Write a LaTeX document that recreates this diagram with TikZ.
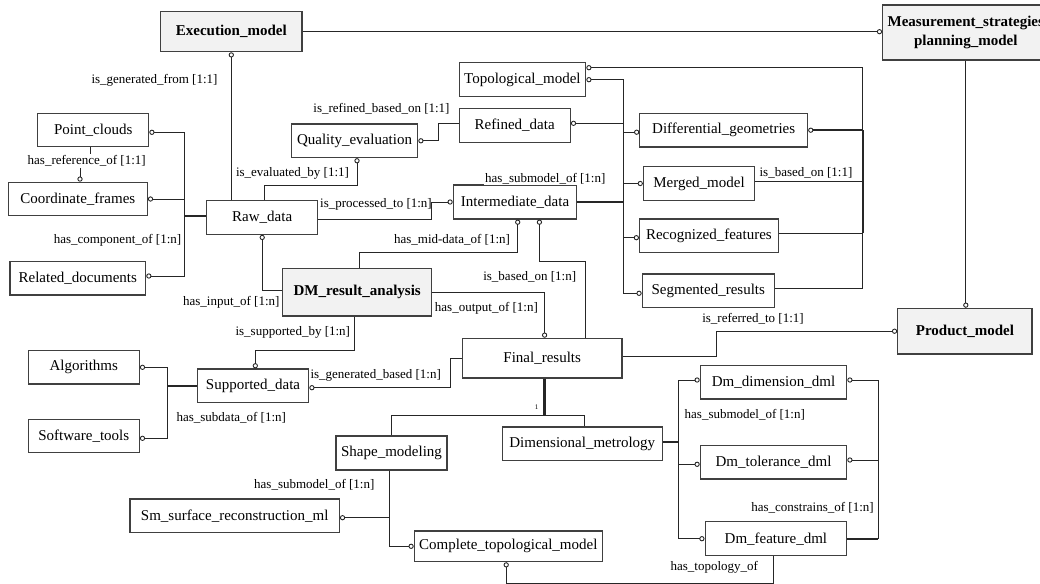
\documentclass[tikz,border=0pt]{standalone}
\usepackage{fontspec}
\setmainfont{Liberation Serif}
\usetikzlibrary{arrows.meta,calc}
\begin{document}
\begin{tikzpicture}[x=1pt,y=-1pt,
  box/.style={draw=black!75, line width=1.2pt, fill=white, inner sep=0pt,
    font=\fontsize{15}{17}\selectfont, minimum height=33.5pt},
  gbox/.style={box, fill=black!5, font=\fontsize{15}{18.4}\selectfont\bfseries},
  lbl/.style={font=\fontsize{13}{15}\selectfont, inner sep=0.5pt},
  wlbl/.style={lbl, fill=white, inner sep=1.5pt},
  conn/.style={line width=1pt, draw=black!85},
  oc/.style={conn, -{Circle[open,length=5.2pt,width=5.2pt,line width=0.9pt]}},
  thk/.style={line width=1.7pt}
]
\useasboundingbox (0,0) rectangle (1040,583);

% ---------- boxes ----------
\node[gbox, minimum width=141.3pt, minimum height=40pt] (exec) at (231.3,31.7) {Execution\_model};
\node[gbox, minimum width=166.3pt, minimum height=55pt, align=center] (meas) at (965.8,32.5) {Measurement\_strategies\\planning\_model};
\node[box, minimum width=126.6pt, minimum height=34pt] (topo) at (522.4,79.7) {Topological\_model};
\node[box, minimum width=111.2pt, minimum height=34pt] (refined) at (514.7,125.3) {Refined\_data};
\node[box, minimum width=126.4pt] (quality) at (354.5,140.8) {Quality\_evaluation};
\node[box, minimum width=111pt] (points) at (93.2,130) {Point\_clouds};
\node[box, minimum width=139pt] (coord) at (77.8,199) {Coordinate\_frames};
\node[box, minimum width=135.7pt] (related) at (77.8,278.3) {Related\_documents};
\node[box, minimum width=111pt] (raw) at (262.2,217.5) {Raw\_data};
\node[box, minimum width=123.4pt, minimum height=34pt] (inter) at (515,202) {Intermediate\_data};
\node[box, minimum width=167.7pt] (diff) at (723.7,130.2) {Differential\_geometries};
\node[box, minimum width=111.1pt] (merged) at (699,183.5) {Merged\_model};
\node[box, minimum width=138.7pt] (recog) at (708.9,235.7) {Recognized\_features};
\node[box, minimum width=132.1pt] (seg) at (708.3,290.7) {Segmented\_results};
\node[gbox, minimum width=149pt, minimum height=47.3pt] (dm) at (357.2,292.3) {DM\_result\_analysis};
\node[box, minimum width=159.7pt, minimum height=39.7pt] (final) at (542.2,358.2) {Final\_results};
\node[gbox, minimum width=134.3pt, minimum height=45.7pt] (product) at (964.9,331.2) {Product\_model};
\node[box, minimum width=111pt] (algo) at (83.8,367.3) {Algorithms};
\node[box, minimum width=111pt] (soft) at (83.8,436) {Software\_tools};
\node[box, minimum width=111.4pt] (supp) at (253,385.7) {Supported\_data};
\node[box, minimum width=111pt, minimum height=34pt] (shape) at (391.5,453) {Shape\_modeling};
\node[box, minimum width=160.2pt] (dimm) at (582.3,443.8) {Dimensional\_metrology};
\node[box, minimum width=146.4pt] (dimd) at (773.5,382.3) {Dm\_dimension\_dml};
\node[box, minimum width=146.4pt] (tol) at (773.5,462.3) {Dm\_tolerance\_dml};
\node[box, minimum width=141.6pt, minimum height=34pt] (feat) at (775.9,538.7) {Dm\_feature\_dml};
\node[box, minimum width=209.3pt] (sm) at (234.7,515.7) {Sm\_surface\_reconstruction\_ml};
\node[box, minimum width=188pt, minimum height=30.7pt] (comp) at (508.3,546.3) {Complete\_topological\_model};

% ---------- connectors ----------
\draw[oc] (exec.east) -- (exec.east -| meas.west);
\draw[oc] (raw.north -| exec.south) -- (exec.south);

\coordinate (lbA) at ($(raw.west)+(-21.4,-1.8)$);
\draw[conn, thk] ($(raw.west)+(0,-1.8)$) -- (lbA);
\draw[oc] (lbA) |- ($(points.east)+(0,2.3)$);
\draw[oc] (lbA) |- (coord.east);
\draw[oc] (lbA) |- ($(related.east)+(0,-2.3)$);

\draw[oc] ($(points.south)+(-2.5,0)$) |- (85,161) -| ($(coord.north)+(2.2,0)$);

\draw[oc] ($(raw.north)+(2.1,0)$) |- (357,185) -- ($(quality.south)+(2.5,0)$);
\draw[oc] ($(refined.west)+(0,-2)$) -| (438.3,140.8) -- (quality.east);
\draw[oc] ($(raw.east)+(0,1.8)$) -| (431.7,202) -- (inter.west);
\draw[oc] ($(dm.west)+(0,-2.3)$) -| (raw.south);
\draw[oc] ($(dm.north)+(2.1,0)$) |- (517.7,252.7) -- ($(inter.south)+(2.7,0)$);
\draw[oc] ($(final.north)+(43.1,0)$) |- (539.4,261.7) -- ($(inter.south)+(24.4,0)$);
\draw[oc] (dm.east) -| ($(final.north)+(2.4,0)$);

\coordinate (mb) at ($(inter.east)+(46.1,0)$);
\draw[conn, thk] (inter.east) -- (mb);
\draw[oc] (mb) |- (topo.east);
\draw[oc] (mb) |- ($(refined.east)+(0,-2)$);
\draw[oc] (mb) |- ($(diff.west)+(0,2)$);
\draw[oc] (mb) |- (merged.west);
\draw[oc] (mb) |- ($(recog.west)+(0,2)$);
\draw[oc] (mb) |- ($(seg.west)+(0,2.6)$);

\coordinate (rbus) at ($(diff.east)+(54.5,0)$);
\draw[oc] (rbus) |- ($(topo.east)+(0,-12)$);
\draw[oc, thk] (rbus) -- (diff.east);
\draw[conn] (rbus) |- ($(merged.east)+(0,-2.2)$);
\draw[conn] (rbus) |- ($(recog.east)+(0,-2.4)$);
\draw[conn] (rbus) |- ($(seg.east)+(0,-2.4)$);
\draw[conn, thk] (rbus) -- ($(recog.east -| rbus)+(0,-2.4)$);

\draw[oc] (meas.south) -- (meas.south |- product.north);
\draw[oc] ($(final.east)+(0,-2.2)$) -| (716.6,331.2) -- (product.west);

\draw[oc] ($(dm.south)+(-2.9,0)$) |- (255.3,350) -- ($(supp.north)+(2.3,0)$);
\coordinate (sb) at ($(supp.west)+(-29,0)$);
\draw[conn, thk] (supp.west) -- (sb);
\draw[oc] (sb) |- (algo.east);
\draw[oc] (sb) |- ($(soft.east)+(0,2.3)$);
\draw[oc] (final.west) -| (450,387.7) -- ($(supp.east)+(0,2)$);

\coordinate (fj) at ($(final.south)+(2.4,37)$);
\draw[conn, line width=2.4pt] ($(final.south)+(2.4,0)$) -- (fj);
\draw[conn] (shape.north) |- (fj) -| ($(dimm.north)+(2.2,0)$);

\coordinate (db) at ($(dimm.east)+(15,-2.1)$);
\draw[conn, thk] ($(dimm.east)+(0,-2.1)$) -- (db);
\draw[oc] (db) |- ($(dimd.west)+(0,-2.3)$);
\draw[oc] (db) |- ($(tol.west)+(0,2)$);
\draw[oc] (db) |- (feat.west);

\coordinate (db2) at ($(tol.east)+(30.8,-2.3)$);
\draw[oc] (db2) |- ($(dimd.east)+(0,-2.3)$);
\draw[oc] (db2) -- ($(tol.east)+(0,-2.3)$);
\draw[conn] (db2) |- (feat.east);
\draw[conn, thk] (feat.east) -- (feat.east -| db2);

\draw[oc] ($(feat.south)+(-2.8,0)$) -- ++(0,27) -| ($(comp.south)+(-2.1,0)$);
\draw[oc] ($(shape.south)+(-2.2,0)$) |- (comp.west);
\draw[oc] ($(shape.south)+(-2.2,0)$) |- ($(sm.east)+(0,2)$);

% ---------- labels ----------
\node[lbl] (l1) at (154.5,80) {is\_generated\_from [1:1]};
\node[wlbl] (l2) at (86.7,161) {has\_reference\_of [1:1]};
\node[lbl] (l3) at (117.5,240) {has\_component\_of [1:n]};
\node[lbl] (l4) at (381.5,109) {is\_refined\_based\_on [1:1]};
\node[lbl] (l5) at (292.5,173.3) {is\_evaluated\_by [1:1]};
\node[lbl] (l6) at (376,204) {is\_processed\_to [1:n]};
\node[wlbl] (l7) at (545.3,178.3) {has\_submodel\_of [1:n]};
\node[lbl] (l8) at (452,240) {has\_mid-data\_of [1:n]};
\node[lbl] (l9) at (806,173) {is\_based\_on [1:1]};
\node[lbl] (l10) at (231.3,302.3) {has\_input\_of [1:n]};
\node[lbl] (l11) at (529.7,277) {is\_based\_on [1:n]};
\node[lbl] (l12) at (486.4,308.3) {has\_output\_of [1:n]};
\node[lbl] (l13) at (753,319) {is\_referred\_to [1:1]};
\node[lbl] (l14) at (292.8,332.3) {is\_supported\_by [1:n]};
\node[lbl] (l15) at (375.7,375) {is\_generated\_based [1:n]};
\node[lbl] (l16) at (231.3,417.7) {has\_subdata\_of [1:n]};
\node[lbl, font=\fontsize{7}{8}\selectfont] (l17) at (536.6,407.3) {1};
\node[lbl] (l18) at (744.8,415) {has\_submodel\_of [1:n]};
\node[lbl] (l19) at (314.3,485) {has\_submodel\_of [1:n]};
\node[lbl] (l20) at (812.5,507.3) {has\_constrains\_of [1:n]};
\node[lbl] (l21) at (714.3,567.7) {has\_topology\_of};
\end{tikzpicture}
\end{document}
